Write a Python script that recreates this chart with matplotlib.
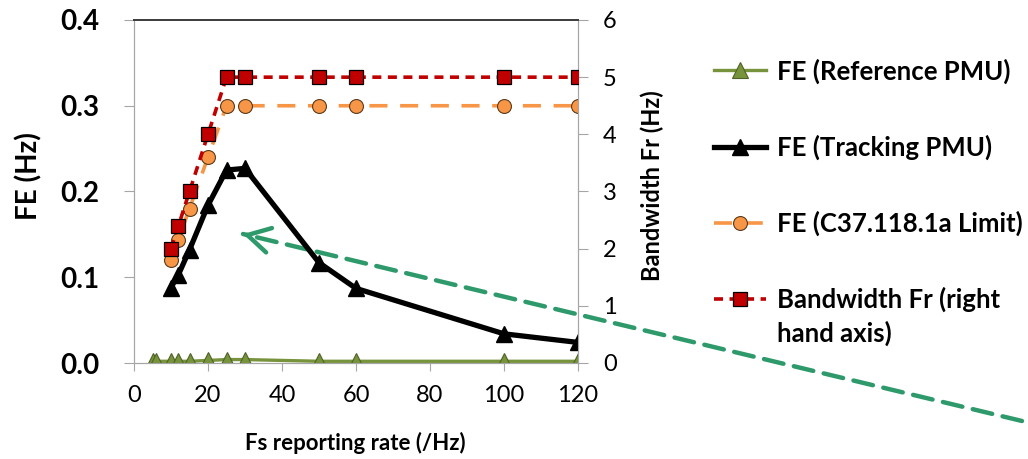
import numpy as np
import matplotlib
matplotlib.use('Agg')
import matplotlib.pyplot as plt

plt.rcParams['font.family'] = ['Lato', 'DejaVu Sans']

# data
fs_ref = [5, 6, 10, 12, 15, 20, 25, 30, 50, 60, 100, 120]
fe_ref = [0.002, 0.002, 0.002, 0.002, 0.002, 0.003, 0.004, 0.004, 0.002, 0.002, 0.002, 0.002]

fs_trk = [10, 12, 15, 20, 25, 30, 50, 60, 100, 120]
fe_trk = [0.088, 0.103, 0.132, 0.184, 0.225, 0.227, 0.117, 0.087, 0.034, 0.024]

fs_lim = [10, 12, 15, 20, 25, 30, 50, 60, 100, 120]
fe_lim = [0.12, 0.144, 0.18, 0.24, 0.30, 0.30, 0.30, 0.30, 0.30, 0.30]

fs_bw = [10, 12, 15, 20, 25, 30, 50, 60, 100, 120]
bw_fr = [2.0, 2.4, 3.0, 4.0, 5.0, 5.0, 5.0, 5.0, 5.0, 5.0]

x_ticks = [0, 20, 40, 60, 80, 100, 120]
y_ticks = [0.0, 0.1, 0.2, 0.3, 0.4]
y2_ticks = [0, 1, 2, 3, 4, 5, 6]

labels = ['FE (Reference PMU)', 'FE (Tracking PMU)', 'FE (C37.118.1a Limit)', 'Bandwidth Fr (right']

W, H = 1028, 459
fig = plt.figure(figsize=(W / 100, H / 100), dpi=100)
ax = fig.add_axes([134 / W, 1 - 363 / H, 444 / W, 343 / H])
ax2 = ax.twinx()

grey = '#a6a6a6'

h1, = ax.plot(fs_ref, fe_ref, color='#77933c', lw=2.4, marker='^', ms=11.5,
              mfc='#77933c', mec='#4f6228', mew=0.8, zorder=3)
h2, = ax.plot(fs_trk, fe_trk, color='black', lw=3.8, marker='^', ms=12,
              mfc='black', mec='black', zorder=4)
h3, = ax.plot(fs_lim, fe_lim, color='#f79646', lw=2.6, ls=(0, (5, 3.5)), marker='o', ms=10,
              mfc='#f79646', mec='#5a3a1a', mew=0.8, zorder=2)
h4, = ax2.plot(fs_bw, bw_fr, color='#c00000', lw=2.6, ls=(0, (2.5, 1.8)), marker='s', ms=10.5,
               mfc='#c00000', mec='black', mew=0.9, zorder=3)

ax.set_xlim(0, 120)
ax.set_ylim(0, 0.4)
ax2.set_ylim(0, 6)
ax.set_xticks(x_ticks)
ax.set_yticks(y_ticks)
ax2.set_yticks(y2_ticks)
ax.set_yticklabels([f'{v:.1f}' for v in y_ticks], fontweight='bold', fontsize=20)
ax.tick_params(axis='y', length=7, color=grey, pad=18)
ax.tick_params(axis='x', length=6, color=grey, labelsize=17, pad=10)
ax2.tick_params(axis='y', length=7, color=grey, labelsize=17, pad=11)

for a in (ax, ax2):
    a.spines['left'].set_color(grey)
    a.spines['right'].set_color(grey)
    a.spines['bottom'].set_color(grey)
    a.spines['top'].set_color('#404040')
    a.spines['top'].set_linewidth(1.4)
ax2.patch.set_visible(False)

ax.set_ylabel('FE (Hz)', fontsize=20, fontweight='bold')
ax.yaxis.set_label_coords(-0.207, 0.545)
ax2.set_ylabel('Bandwidth Fr (Hz)', fontsize=17, fontweight='bold')
ax2.yaxis.set_label_coords(1.14, 0.516)
ax.set_xlabel('Fs reporting rate (/Hz)', fontsize=16, fontweight='bold')
ax.xaxis.set_label_coords(0.498, -0.2)

leg = fig.legend([h1, h2, h3, h4], labels, loc='upper left',
                 bbox_to_anchor=(704 / W, 1 - 48 / H), frameon=False,
                 prop={'weight': 'bold', 'size': 18.5}, handlelength=2.0,
                 handletextpad=0.43, labelspacing=1.98, borderaxespad=0)

# second line of the last legend label
fig.canvas.draw()
bb = leg.get_texts()[-1].get_window_extent()
fig.text(bb.x0 / W, (bb.y0 - 21) / H, 'hand axis)', fontsize=18.5, fontweight='bold',
         ha='left', va='center')

# green dashed arrow
tail = (1022 / W, 1 - 421 / H)
tip = (243 / W, 1 - 234 / H)
arrow_col = '#2e9a6c'
ax.annotate('', xy=tip, xycoords='figure fraction', xytext=tail, textcoords='figure fraction',
            arrowprops=dict(arrowstyle='-', color=arrow_col, lw=3.2, ls=(0, (4.5, 2.4)),
                            shrinkA=0, shrinkB=0), annotation_clip=False)
d = np.array(tail) * [W, H] - np.array(tip) * [W, H]
d = d / np.hypot(*d)
near = ((tip[0] * W + d[0] * 6) / W, (tip[1] * H + d[1] * 6) / H)
ax.annotate('', xy=tip, xycoords='figure fraction', xytext=near, textcoords='figure fraction',
            arrowprops=dict(arrowstyle='->,head_length=1.6,head_width=0.9', color=arrow_col,
                            lw=3.2, shrinkA=0, shrinkB=0, mutation_scale=10),
            annotation_clip=False)

fig.savefig('out.png', dpi=100)
